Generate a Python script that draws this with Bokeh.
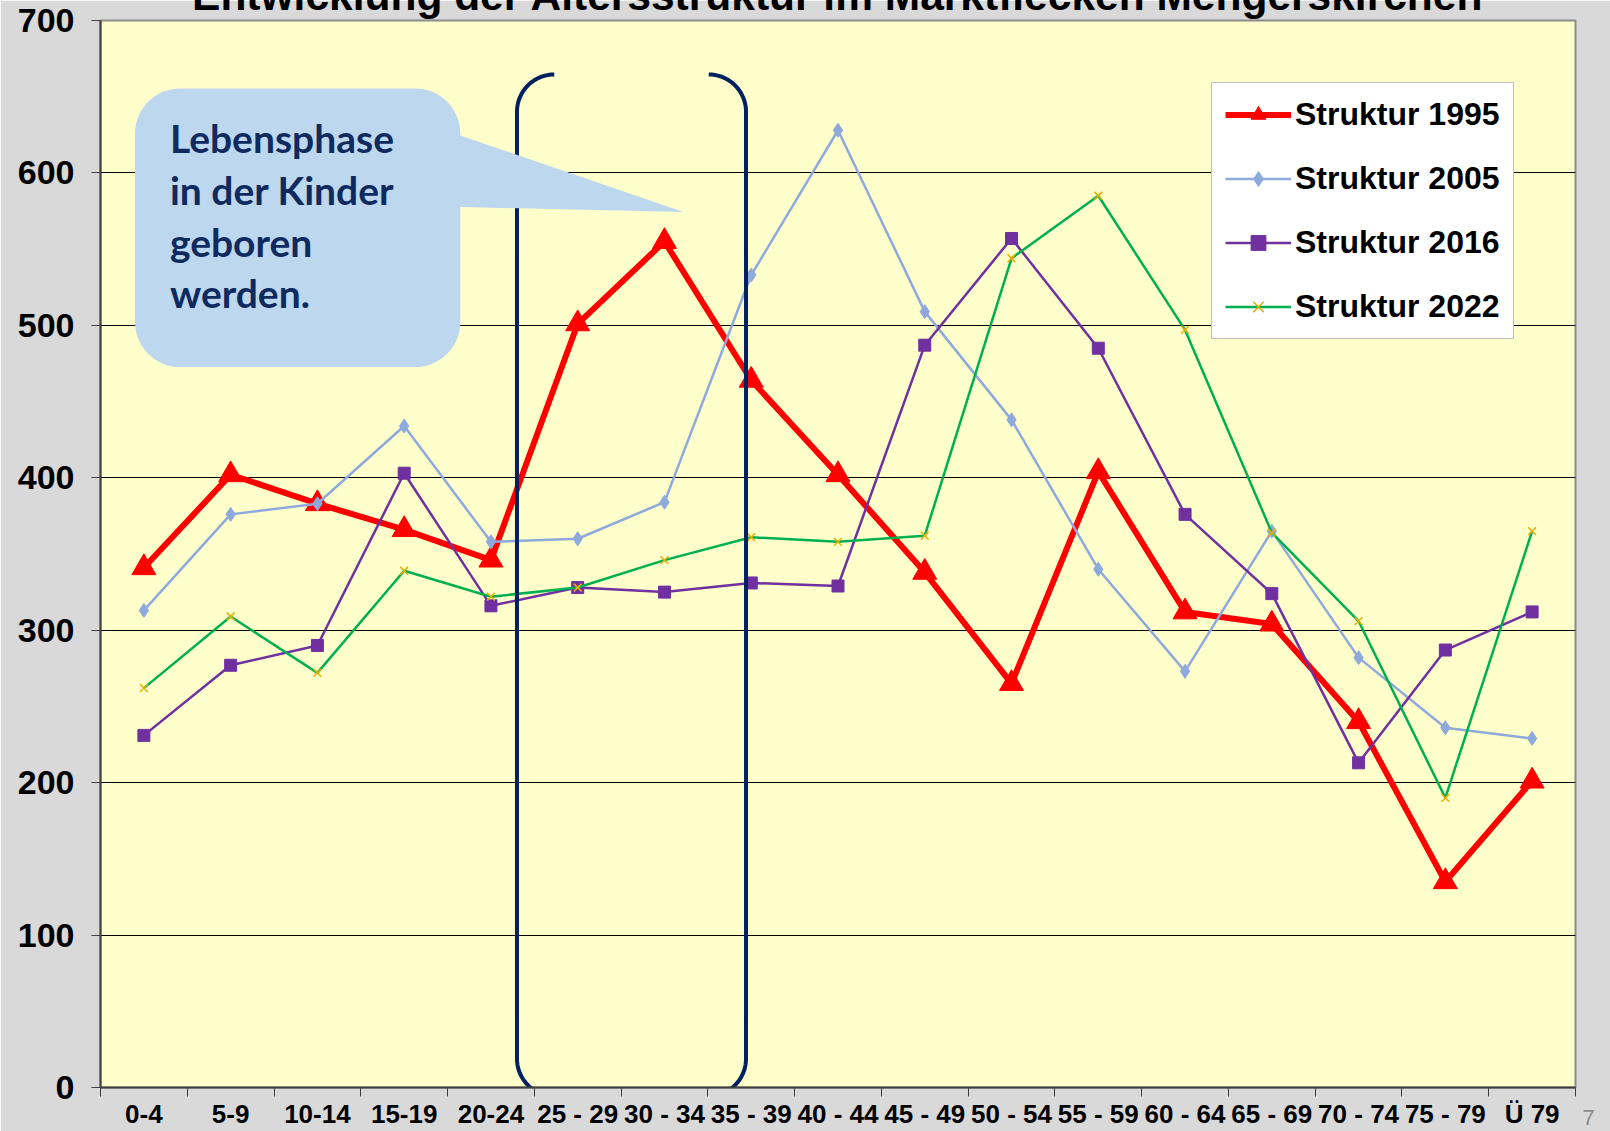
import numpy as np
from bokeh.plotting import figure
from bokeh.models import Legend, LegendItem, FixedTicker, Label, Range1d
from bokeh.core.properties import value
from bokeh.embed import file_html
from bokeh.resources import INLINE

# ---------------- data ----------------
categories = ["0-4", "5-9", "10-14", "15-19", "20-24", "25 - 29", "30 - 34",
              "35 - 39", "40 - 44", "45 - 49", "50 - 54", "55 - 59", "60 - 64",
              "65 - 69", "70 - 74", "75 - 79", "Ü 79"]
s1995 = [341, 402, 383, 366, 346, 501, 555, 464, 402, 338, 265, 404, 312, 304, 240, 135, 201]
s2005 = [313, 376, 383, 434, 358, 360, 384, 533, 628, 509, 438, 340, 273, 365, 282, 236, 229]
s2016 = [231, 277, 290, 403, 316, 328, 325, 331, 329, 487, 557, 485, 376, 324, 213, 287, 312]
s2022 = [262, 309, 272, 339, 322, 328, 346, 361, 358, 362, 544, 585, 497, 364, 306, 190, 365]
series_labels = ["Struktur 1995", "Struktur 2005", "Struktur 2016", "Struktur 2022"]
y_ticks = [0, 100, 200, 300, 400, 500, 600, 700]
title_text = "Entwicklung der Altersstruktur im Marktflecken Mengerskirchen"
callout_lines = ["Lebensphase", "in der  Kinder", "geboren", "werden."]

x = list(range(1, len(categories) + 1))
boundaries = [i + 0.5 for i in range(0, len(categories) + 1)]

p = figure(width=1610, height=1131,
           x_range=Range1d(0.5, len(categories) + 0.5), y_range=Range1d(0, 700),
           output_backend="svg", toolbar_location=None,
           min_border_left=100, min_border_right=35, min_border_top=20, min_border_bottom=43,
           background_fill_color="#FFFFCC", border_fill_color="#D9D9D9",
           outline_line_color="#8C8C8C", outline_line_width=2)

# title: the slide cuts it off at the top, only its lower part shows
p.title.text = title_text
p.title.text_font = "Liberation Sans"
p.title.text_font_style = "bold"
p.title.text_font_size = "42.5px"
p.title.text_color = "#000000"
p.title.align = "center"
p.title.vertical_align = "top"
p.title.standoff = -98

# x axis
xa = p.below[0]
xa.ticker = FixedTicker(ticks=x, minor_ticks=boundaries)
xa.major_label_overrides = {i: c for i, c in zip(x, categories)}
xa.major_tick_out = 0
xa.major_tick_in = 0
xa.minor_tick_out = 9
xa.minor_tick_in = 0
xa.minor_tick_line_color = "#404040"
xa.minor_tick_line_width = 1
xa.axis_line_color = "#404040"
xa.axis_line_width = 2
xa.major_label_text_font = "Liberation Sans"
xa.major_label_text_font_style = "bold"
xa.major_label_text_font_size = "26px"
xa.major_label_text_color = "#000000"
xa.major_label_standoff = 2

# y axis
ya = p.left[0]
ya.ticker = FixedTicker(ticks=y_ticks, minor_ticks=[])
ya.major_tick_out = 9
ya.major_tick_in = 0
ya.major_tick_line_color = "#404040"
ya.axis_line_color = "#404040"
ya.axis_line_width = 2
ya.major_label_text_font = "Liberation Sans"
ya.major_label_text_font_style = "bold"
ya.major_label_text_font_size = "34px"
ya.major_label_text_color = "#000000"
ya.major_label_standoff = 17

p.xgrid.visible = False
p.ygrid.ticker = FixedTicker(ticks=y_ticks)
p.ygrid.grid_line_color = "#000000"
p.ygrid.grid_line_width = 1

# series
r1 = p.line(x, s1995, line_color="#FF0000", line_width=6, line_join="round")
m1 = p.scatter(x, s1995, marker="triangle", size=24, fill_color="#FF0000", line_color="#FF0000")
r2 = p.line(x, s2005, line_color="#8EA9DB", line_width=2.5)
m2 = p.scatter(x, s2005, marker="diamond", size=14, fill_color="#8EA9DB", line_color="#8EA9DB")
r3 = p.line(x, s2016, line_color="#7030A0", line_width=2.5)
m3 = p.scatter(x, s2016, marker="square", size=12, fill_color="#7030A0", line_color="#7030A0")
r4 = p.line(x, s2022, line_color="#00B050", line_width=2.5)
m4 = p.scatter(x, s2022, marker="x", size=11, line_color="#E6B000", line_width=1.5)

# bracket (annotation shape)
def bracket(x_vert, x_end, y_top, y_bot, ry, n=20):
    rx = x_end - x_vert
    t = np.linspace(0, np.pi / 2, n)
    cx_t, cy_t = x_vert + rx, y_top - ry
    tx = cx_t - rx * np.sin(t)
    ty = cy_t + ry * np.cos(t)
    cx_b, cy_b = x_vert + rx, y_bot + ry
    bx = cx_b - rx * np.cos(t)
    by = cy_b - ry * np.sin(t)
    return list(tx) + list(bx), list(ty) + list(by)

bx1, by1 = bracket(5.30, 5.73, 664.6, -5.6, 24.5)
bx2, by2 = bracket(7.94, 7.51, 664.6, -5.6, 24.5)
p.line(bx1, by1, line_color="#002060", line_width=4)
p.line(bx2, by2, line_color="#002060", line_width=4)

# callout bubble
def bubble(x0, x1, yb, yt, rx, ry, ptop, pbot, tipx, tipy, n=16):
    t = np.linspace(0, np.pi / 2, n)
    xs, ys = [], []
    xs += list(x0 + rx - rx * np.cos(t)); ys += list(yt - ry + ry * np.sin(t))
    xs += list(x1 - rx + rx * np.sin(t)); ys += list(yt - ry + ry * np.cos(t))
    xs += [x1, tipx, x1]; ys += [ptop, tipy, pbot]
    xs += list(x1 - rx + rx * np.cos(t)); ys += list(yb + ry - ry * np.sin(t))
    xs += list(x0 + rx - rx * np.sin(t)); ys += list(yb + ry - ry * np.cos(t))
    return xs, ys

cx, cy = bubble(0.898, 4.647, 472.6, 655.4, 0.52, 29.5, 624.6, 577.6, 7.22, 574.4)
p.patch(cx, cy, fill_color="#BDD7EE", line_color=None)
p.text(x=[1.30] * 4, y=[623.0, 589.0, 555.0, 521.0], text=callout_lines,
       text_font=value("Lato"), text_font_style="bold", text_font_size="39px",
       text_color="#0F2A5E", text_baseline="alphabetic", text_align="left")

# legend
legend = Legend(items=[LegendItem(label=series_labels[0], renderers=[r1, m1]),
                       LegendItem(label=series_labels[1], renderers=[r2, m2]),
                       LegendItem(label=series_labels[2], renderers=[r3, m3]),
                       LegendItem(label=series_labels[3], renderers=[r4, m4])],
                location=(1111, 748), orientation="vertical",
                border_line_color="#808080", border_line_width=1.5,
                background_fill_color="#FFFFFF", background_fill_alpha=1.0,
                label_text_font="Liberation Sans", label_text_font_style="bold",
                label_text_font_size="32px", label_text_color="#000000",
                glyph_width=66, glyph_height=37, label_height=37, spacing=27,
                padding=13, label_standoff=4, margin=0)
p.add_layout(legend)

# slide page number, in the right side panel so it is not clipped to the frame
p.add_layout(Label(x=17.65, y=-19.5, text="7", text_align="center", text_baseline="middle",
                   text_font="Liberation Sans", text_font_size="22px", text_color="#8C8C8C"),
             "right")

open("out.html", "w").write(file_html(p, INLINE))
